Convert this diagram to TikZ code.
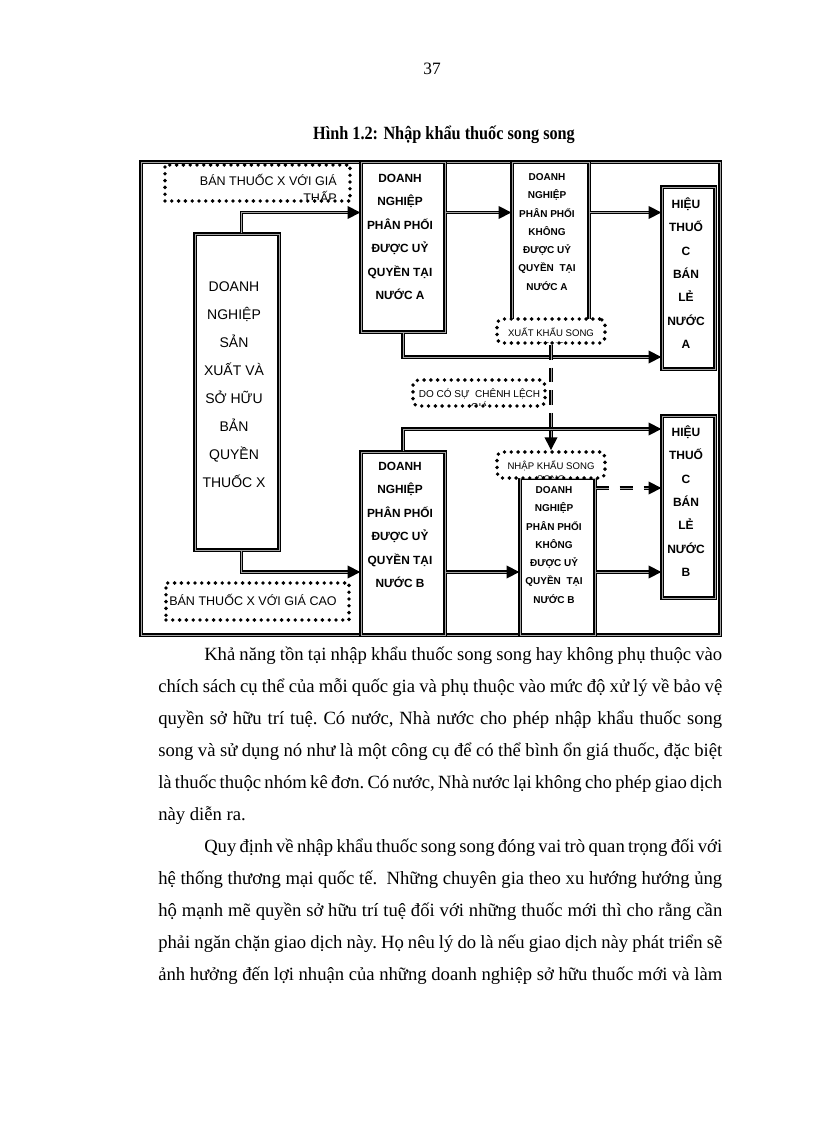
\documentclass[tikz,border=0pt]{standalone}
\usepackage{fontspec}
\setmainfont{Liberation Serif}
\setsansfont{Liberation Sans}
\usepackage{tikz}
\usetikzlibrary{arrows.meta}
\usetikzlibrary{fit}
\tikzset{>=latex}

\begin{document}
\begin{tikzpicture}[x=0.75pt, y=-0.75pt,
    dbl/.style={draw, line width=1pt, double=gray!70, double distance=0.7pt},
    arr/.style={dbl, -{Triangle[length=9.5pt,width=9.5pt]}},
    box/.style={dbl, fill=white, inner sep=0pt},
    dotbox/.style={draw, fill=white, line width=2.9pt, dash pattern=on 0pt off 5.1pt, line cap=round, inner sep=0pt},
    bigtxt/.style={font=\sffamily\fontsize{10.5}{21}\selectfont, align=center, inner sep=0pt},
    authtxt/.style={font=\sffamily\bfseries\fontsize{8.9}{17.6}\selectfont, align=center, inner sep=0pt},
    freetxt/.style={font=\sffamily\bfseries\fontsize{7.5}{13.7}\selectfont, align=center, inner sep=0pt},
    shoptxt/.style={font=\sffamily\bfseries\fontsize{9}{17.5}\selectfont, align=center, inner sep=0pt},
    dottxt/.style={font=\sffamily\fontsize{7.2}{9.8}\selectfont, align=center, inner sep=0pt},
    pricetxt/.style={font=\sffamily\fontsize{9.4}{12.8}\selectfont, inner sep=0pt},
    body/.style={font=\fontsize{14}{24}\selectfont\frenchspacing, text width=423pt, align=justify, inner sep=0pt, anchor=base west},
]
\useasboundingbox (0,0) rectangle (816,1123);

% page number and caption
\node[font=\fontsize{13}{15}\selectfont, anchor=base, inner sep=0pt] (pgnum) at (432,75) {37};
\node[font=\bfseries\fontsize{14}{16}\selectfont\addfontfeatures{FakeStretch=0.87}, anchor=base, inner sep=0pt] (caption) at (444,140) {Hình 1.2: Nhập khẩu thuốc song song};

% frame
\draw[dbl] (141,162) rectangle (720,635);

% boxes
\node[box, fit={(195,234) (279,550)}] (prod) {};
\node[box, fit={(361,162) (445,332)}] (authA) {};
\node[box, fit={(512,162) (589,322)}] (freeA) {};
\node[box, fit={(662,187) (715,369)}] (shopA) {};
\node[box, fit={(361,452) (445,635)}] (authB) {};
\node[box, fit={(520,478) (595,635)}] (freeB) {};
\node[box, fit={(662,416) (715,598)}] (shopB) {};

\node[bigtxt] (prod-t) at (234,385) {DOANH\\NGHIỆP\\SẢN\\XUẤT VÀ\\SỞ HỮU\\BẢN\\QUYỀN\\THUỐC X};
\node[authtxt] (authA-t) at (400,237) {DOANH\\NGHIỆP\\PHÂN PHỐI\\ĐƯỢC UỶ\\QUYỀN TẠI\\NƯỚC A};
\node[freetxt] (freeA-t) at (547,232) {DOANH\\NGHIỆP\\PHÂN PHỐI\\KHÔNG\\ĐƯỢC UỶ\\QUYỀN\ \ TẠI\\NƯỚC A};
\node[shoptxt] (shopA-t) at (686,273) {HIỆU\\THUỐ\\C\\BÁN\\LẺ\\NƯỚC\\A};
\node[authtxt] (authB-t) at (400,525) {DOANH\\NGHIỆP\\PHÂN PHỐI\\ĐƯỢC UỶ\\QUYỀN TẠI\\NƯỚC B};
\node[freetxt] (freeB-t) at (554,545) {DOANH\\NGHIỆP\\PHÂN PHỐI\\KHÔNG\\ĐƯỢC UỶ\\QUYỀN\ \ TẠI\\NƯỚC B};
\node[shoptxt] (shopB-t) at (686,501) {HIỆU\\THUỐ\\C\\BÁN\\LẺ\\NƯỚC\\B};

% dotted boxes
\node[dotbox, fit={(165,165) (350,201)}] (lowTop) {};
\node[dotbox, fit={(166,583) (349,620)}] (highBot) {};
\node[dotbox, rounded corners=4pt, fit={(497,319) (605,343)}] (export) {};
\node[dotbox, rounded corners=4pt, fit={(413,380) (545,406)}] (gap) {};
\node[dotbox, rounded corners=4pt, fit={(497,452) (605,478)}] (import) {};

\begin{scope}
  \clip (lowTop.north west) rectangle ([yshift=2.5pt]lowTop.south east);
  \node[pricetxt, align=right, anchor=east] (lowTop-t) at (337,188.5) {BÁN THUỐC X VỚI GIÁ\\THẤP};
\end{scope}
\node[pricetxt, anchor=west] (highBot-t) at (169,600) {BÁN THUỐC X VỚI GIÁ CAO};
\begin{scope}
  \clip (export.north west) rectangle ([yshift=1.5pt]export.south east);
  \node[dottxt] (export-t) at (551,338.5) {XUẤT KHẨU SONG\\SONG};
\end{scope}
\begin{scope}
  \clip (gap.north west) rectangle ([yshift=1.5pt]gap.south east);
  \node[dottxt, font=\sffamily\fontsize{7.5}{9.8}\selectfont] (gap-t) at (479.5,399.5) {DO CÓ SỰ\ \ CHÊNH LỆCH\\GIÁ};
\end{scope}
\begin{scope}
  \clip (import.north west) rectangle ([yshift=1.5pt]import.south east);
  \node[dottxt] (import-t) at (551,471.5) {NHẬP KHẨU SONG\\SONG};
\end{scope}

% arrow levels
\coordinate (lvlA) at (0,212.5);
\coordinate (lvlX) at (0,357);
\coordinate (lvlB) at (0,429);
\coordinate (lvlP) at (0,488);
\coordinate (lvlC) at (0,572);

\draw[arr] ([xshift=3.5pt]prod.north) |- (authA.west |- lvlA);
\draw[arr] (authA.east |- lvlA) -- (freeA.west |- lvlA);
\draw[arr] (freeA.east |- lvlA) -- (shopA.west |- lvlA);
\draw[arr] (authA.south) |- (shopA.west |- lvlX);
\draw[dbl, dash pattern=on 11pt off 6pt] (export.south) -- (export.south |- lvlB);
\draw[arr] (export.south |- lvlB) -- (import.north);
\draw[arr] (authB.north) |- (shopB.west |- lvlB);
\draw[arr] ([xshift=3.5pt]prod.south) |- (authB.west |- lvlC);
\draw[arr] (authB.east |- lvlC) -- (freeB.west |- lvlC);
\draw[arr] (freeB.east |- lvlC) -- (shopB.west |- lvlC);
\draw[arr, dash pattern=on 10pt off 8pt] (freeB.east |- lvlP) -- (shopB.west |- lvlP);

% body text
\node[body] (par1) at (158,660) {\hspace*{34.5pt}Khả năng tồn tại nhập khẩu thuốc song song hay không phụ thuộc vào\linebreak
chích sách cụ thể của mỗi quốc gia và phụ thuộc vào mức độ xử lý về bảo vệ\linebreak
quyền sở hữu trí tuệ. Có nước, Nhà nước cho phép nhập khẩu thuốc song\linebreak
song và sử dụng nó như là một công cụ để có thể bình ổn giá thuốc, đặc biệt\linebreak
là thuốc thuộc nhóm kê đơn. Có nước, Nhà nước lại không cho phép giao dịch\linebreak
này diễn ra.};
\node[body] (par2) at (158,852) {\parfillskip=0pt\hspace*{34.5pt}Quy định về nhập khẩu thuốc song song đóng vai trò quan trọng đối với\linebreak
hệ thống thương mại quốc tế.\ \ Những chuyên gia theo xu hướng hướng ủng\linebreak
hộ mạnh mẽ quyền sở hữu trí tuệ đối với những thuốc mới thì cho rằng cần\linebreak
phải ngăn chặn giao dịch này. Họ nêu lý do là nếu giao dịch này phát triển sẽ\linebreak
ảnh hưởng đến lợi nhuận của những doanh nghiệp sở hữu thuốc mới và làm};
\end{tikzpicture}
\end{document}
